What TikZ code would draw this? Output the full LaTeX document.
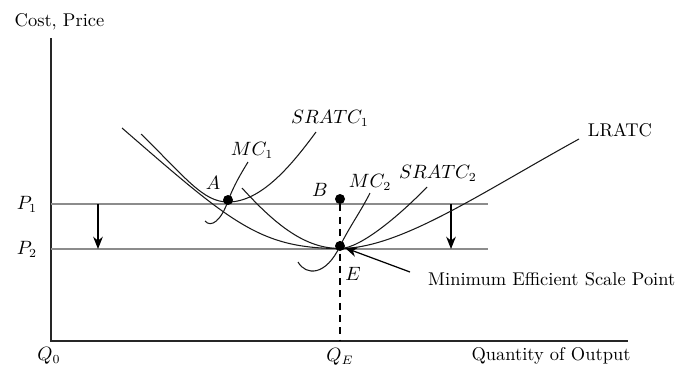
\documentclass[tikz,border=0pt]{standalone}
\usetikzlibrary{arrows.meta}
\begin{document}
\begin{tikzpicture}[font=\fontsize{10.5}{12}\selectfont,>={Stealth[length=7pt,width=5.5pt]}]
\tikzstyle{axis}=[line width=0.8pt,black!85]
\tikzstyle{price}=[line width=0.8pt,black!45]
\tikzstyle{curve}=[line width=0.6pt,black!90]
\tikzstyle{dot}=[circle,fill=black,inner sep=0pt,minimum size=0.2cm]
\useasboundingbox (-1.02,-0.56) rectangle (12.64,6.82);

% axes
\coordinate (o) at (0,0);
\coordinate (ytop) at (0,6.06);
\coordinate (xend) at (11.54,0);
\draw[axis] (ytop) -- (o) -- (xend);
\node at (0.17,6.38) {Cost, Price};
\node at (-0.04,-0.30) {$Q_0$};
\node at (5.78,-0.32) {$Q_E$};
\node at (10.0,-0.30) {Quantity of Output};

% price levels
\coordinate (p1) at (0,2.74);
\coordinate (p1end) at (8.74,2.74);
\coordinate (p2) at (0,1.84);
\coordinate (p2end) at (8.74,1.84);
\draw[price] (p1) -- (p1end);
\draw[price] (p2) -- (p2end);
\node at (-0.48,2.74) {$P_1$};
\node at (-0.48,1.84) {$P_2$};
\coordinate (la) at (0.94,2.74);
\coordinate (lb) at (0.94,1.84);
\coordinate (ra) at (8.0,2.74);
\coordinate (rb) at (8.0,1.84);
\draw[->,line width=0.7pt] (la) -- (lb);
\draw[->,line width=0.7pt] (ra) -- (rb);

% cost curves
\draw[curve] (1.42,4.26) .. controls (3.62,2.35) and (4.18,1.85) .. (5.78,1.85)
  .. controls (6.98,1.85) and (8.56,2.94) .. (10.56,4.04);
\draw[curve] (1.80,4.14) .. controls (2.7,3.26) and (3.04,2.78) .. (3.54,2.78)
  .. controls (4.2,2.78) and (4.8,3.5) .. (5.30,4.18);
\draw[curve] (3.82,3.06) .. controls (4.52,2.29) and (5.1,1.85) .. (5.78,1.85)
  .. controls (6.2,1.85) and (7.02,2.56) .. (7.52,3.08);
\draw[curve] (3.08,2.40) .. controls (3.2,2.26) and (3.4,2.4) .. (3.54,2.80)
  .. controls (3.66,3.12) and (3.8,3.35) .. (3.94,3.58);
\draw[curve] (4.94,1.58) .. controls (5.1,1.3) and (5.5,1.3) .. (5.78,1.90)
  .. controls (5.98,2.3) and (6.2,2.6) .. (6.38,2.96);
\node at (5.58,4.46) {$SRATC_1$};
\node at (4.02,3.82) {$MC_1$};
\node at (6.38,3.18) {$MC_2$};
\node at (7.74,3.36) {$SRATC_2$};
\node at (11.38,4.22) {LRATC};

% points
\node[dot] (A) at (3.54,2.82) {};
\node[dot] (B) at (5.78,2.84) {};
\node[dot] (E) at (5.78,1.90) {};
\node at (3.24,3.16) {$A$};
\node at (5.38,3.02) {$B$};
\node at (6.04,1.34) {$E$};
\draw[dashed,dash pattern=on 4pt off 3pt,line width=0.7pt] (B) -- (B |- o);

% minimum efficient scale
\node[anchor=west] (mes) at (7.42,1.24) {Minimum Efficient Scale Point};
\draw[->,line width=0.7pt] ([shift={(-0.24,0.14)}]mes.west) -- (E);
\end{tikzpicture}
\end{document}
